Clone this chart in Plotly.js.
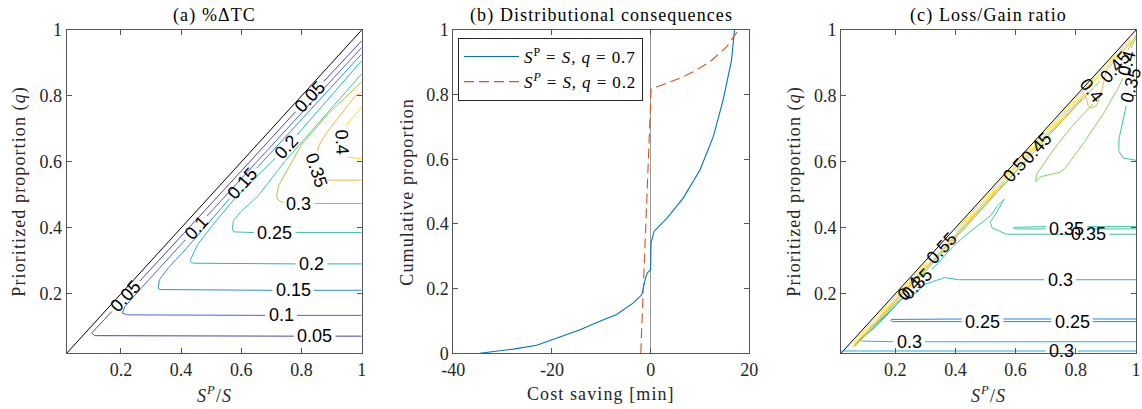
<!DOCTYPE html>
<html><head><meta charset="utf-8">
<script src="https://cdn.plot.ly/plotly-3.0.1.min.js"></script>
<style>
body{margin:0;background:#fff}
.annotation-text[style*="Serif"]{letter-spacing:1.1px}
.legendtext{letter-spacing:0.9px}
</style>
</head><body><div id="chart" style="width:1142px;height:409px"></div>
<script>
// ================= DATA =================
const panelTitles = ['(a) %ΔTC', '(b) Distributional consequences', '(c) Loss/Gain ratio'];
const xTitles = ['<i>S<sup>P</sup></i>/<i>S</i>', 'Cost saving [min]', '<i>S<sup>P</sup></i>/<i>S</i>'];
const yTitles = ['Prioritized proportion (<i>q</i>)', 'Cumulative proportion', 'Prioritized proportion (<i>q</i>)'];
const legendNames = ['<i>S</i><sup>P</sup> = <i>S</i>, <i>q</i> = 0.7', '<i>S<sup>P</sup></i> = <i>S</i>, <i>q</i> = 0.2'];

const unitTickVals = [0.2, 0.4, 0.6, 0.8, 1];
const unitTickText = ['0.2', '0.4', '0.6', '0.8', '1'];
const cumTickVals = [0, 0.2, 0.4, 0.6, 0.8, 1];
const cumTickText = ['0', '0.2', '0.4', '0.6', '0.8', '1'];
const costTickVals = [-40, -20, 0, 20];
const costTickText = ['-40', '-20', '0', '20'];

// boundary S^P = q*S (diagonal)
const diagX = [0.02, 1];
const diagY = [0.02, 1];

// ---- panel (a) %ΔTC contour lines ----
const aX005 = [1, 0.115, 0.103, 0.12, 0.2, 0.5, 0.8, 1];
const aY005 = [0.072, 0.072, 0.082, 0.097, 0.177, 0.473, 0.772, 0.967];
const aX010 = [1, 0.225, 0.205, 0.21, 0.233, 0.45, 0.7, 1];
const aY010 = [0.135, 0.135, 0.142, 0.158, 0.183, 0.4, 0.65, 0.947];
const aX015 = [1, 0.34, 0.324, 0.326, 0.35, 0.394, 0.605, 0.8, 1];
const aY015 = [0.211, 0.211, 0.216, 0.24, 0.272, 0.313, 0.535, 0.73, 0.927];
const aX020 = [1, 0.46, 0.435, 0.43, 0.45, 0.483, 0.572, 0.75, 1];
const aY020 = [0.291, 0.291, 0.294, 0.3, 0.344, 0.384, 0.484, 0.645, 0.907];
const aX025 = [1, 0.6, 0.575, 0.57, 0.572, 0.594, 0.65, 0.728, 0.817, 1];
const aY025 = [0.386, 0.386, 0.388, 0.394, 0.419, 0.446, 0.49, 0.585, 0.675, 0.867];
const aX030 = [1, 0.745, 0.725, 0.717, 0.722, 0.794, 0.872, 1];
const aY030 = [0.474, 0.474, 0.482, 0.494, 0.525, 0.645, 0.731, 0.843];
const aX035 = [1, 0.87, 0.855, 0.848, 0.855, 0.872, 0.917, 0.977, 1];
const aY035 = [0.545, 0.545, 0.55, 0.58, 0.645, 0.675, 0.726, 0.8, 0.81];
const aX040 = [1, 0.95, 0.935, 0.935, 0.955, 1];
const aY040 = [0.766, 0.716, 0.68, 0.64, 0.614, 0.61];
// contour label spots (a)
const aLabLv = [0.05, 0.05, 0.05, 0.1, 0.1, 0.15, 0.15, 0.2, 0.2, 0.25, 0.3, 0.35, 0.4];
const aLabX  = [0.217, 0.828, 0.844, 0.45, 0.733, 0.605, 0.772, 0.75, 0.833, 0.711, 0.789, 0.85, 0.935];
const aLabY  = [0.193, 0.799, 0.072, 0.4, 0.135, 0.535, 0.211, 0.645, 0.291, 0.386, 0.474, 0.575, 0.66];

// ---- panel (b) cumulative distributions of cost saving ----
const bX07 = [-34.6, -27.8, -23.1, -19.0, -14.3, -10.3, -6.9, -3.5, -1.8, -1.1, -0.7, 0.0, 0.07, 0.7, 3.3, 6.6, 10.0, 12.7, 14.7, 16.4, 17.0];
const bY07 = [0, 0.013, 0.025, 0.047, 0.073, 0.099, 0.12, 0.156, 0.181, 0.228, 0.248, 0.259, 0.341, 0.377, 0.418, 0.48, 0.567, 0.67, 0.784, 0.907, 1.0];
const bX02 = [-2.0, -1.6, -1.2, -0.8, -0.4, -0.1, 0.1, 1.8, 6.0, 9.3, 12.3, 15.4, 17.4, 17.8];
const bY02 = [0, 0.15, 0.3, 0.44, 0.6, 0.72, 0.817, 0.827, 0.851, 0.876, 0.905, 0.948, 0.99, 1.0];

// ---- panel (c) Loss/Gain ratio contour lines ----
const cX025 = [1, 0.19, 0.185, 0.19, 1];
const cY025 = [0.124, 0.124, 0.12, 0.116, 0.116];
const cX030a = [0.02, 1];
const cY030a = [0.027, 0.027];
const cX030b = [1, 0.1, 0.087, 0.08, 0.093, 0.126, 0.159, 0.19, 0.215, 0.245, 0.27, 0.293, 0.315, 0.33, 0.348, 0.362, 0.4, 1];
const cY030b = [0.055, 0.055, 0.058, 0.063, 0.07, 0.092, 0.122, 0.15, 0.183, 0.19, 0.203, 0.228, 0.232, 0.24, 0.243, 0.25, 0.243, 0.243];
const cX035a = [0.065, 0.12, 0.2, 0.25, 0.3, 0.332, 0.371, 0.415, 0.471, 0.515, 0.532, 0.548, 0.562, 0.537, 0.515, 0.521, 0.537, 0.565, 0.6, 1];
const cY035a = [0.045, 0.09, 0.165, 0.21, 0.26, 0.283, 0.324, 0.364, 0.404, 0.434, 0.459, 0.474, 0.487, 0.444, 0.419, 0.399, 0.395, 0.381, 0.381, 0.381];
const cX035b = [1, 0.6, 0.593, 0.6, 1];
const cY035b = [0.404, 0.404, 0.4, 0.397, 0.397];
const cX035c = [1, 0.96, 0.943, 0.942, 0.954, 0.965, 0.975, 0.99, 1];
const cY035c = [0.605, 0.61, 0.63, 0.665, 0.711, 0.761, 0.8, 0.85, 0.88];
const cX040a = [0.07, 0.15, 0.25, 0.4, 0.55, 0.7, 0.82];
const cY040a = [0.045, 0.12, 0.218, 0.368, 0.517, 0.668, 0.79];
const cX040b = [0.835, 0.855, 0.875, 0.86, 0.848, 0.804, 0.748, 0.693, 0.67, 0.667, 0.682, 0.737, 0.76, 0.793, 0.848, 0.893, 0.915, 0.937, 0.955, 0.97, 0.985, 1];
const cY040b = [0.83, 0.815, 0.8, 0.78, 0.766, 0.726, 0.665, 0.595, 0.565, 0.54, 0.555, 0.565, 0.575, 0.615, 0.686, 0.746, 0.786, 0.816, 0.85, 0.9, 0.95, 0.975];
const cX045 = [0.065, 0.2, 0.4, 0.67, 0.8, 0.88, 0.932, 0.97, 1];
const cY045 = [0.04, 0.175, 0.373, 0.642, 0.77, 0.845, 0.887, 0.935, 0.985];
const cX050 = [0.06, 0.2, 0.4, 0.598, 0.8, 0.83, 0.837, 0.84, 0.848, 0.868, 0.875, 0.885, 0.9, 0.95, 1];
const cY050 = [0.04, 0.178, 0.378, 0.576, 0.778, 0.805, 0.79, 0.771, 0.763, 0.768, 0.785, 0.81, 0.876, 0.928, 0.98];
const cX055 = [0.055, 0.3, 0.6, 0.9, 0.98, 0.98, 0.9, 0.6, 0.3, 0.06];
const cY055 = [0.047, 0.292, 0.592, 0.892, 0.972, 0.964, 0.884, 0.584, 0.284, 0.043];
// contour label spots (c)
const cLabLv = [0.3, 0.3, 0.3, 0.25, 0.25, 0.35, 0.35, 0.35, 0.4, 0.55, 0.5, 0.45, 0.4, 0.45, 0.4, 0.35];
const cLabX  = [0.754, 0.245, 0.748, 0.49, 0.787, 0.77, 0.843, 0.276, 0.254, 0.354, 0.598, 0.67, 0.852, 0.932, 0.97, 0.984];
const cLabY  = [0.027, 0.055, 0.243, 0.12, 0.12, 0.4, 0.381, 0.228, 0.208, 0.339, 0.576, 0.642, 0.818, 0.887, 0.9, 0.832];

// ================= STYLE / LAYOUT =================
const W = 1142, H = 409;
const panelPxX = [[66.7, 361.7], [453.3, 749.3], [841, 1136]];
const panelPxY = [30, 353.3];
const unitRange = [0.02, 1];
const colorsA = {0.05:'#4a40c2', 0.1:'#4a62e8', 0.15:'#2f88ef', 0.2:'#1fb2e2', 0.25:'#3cc4a2', 0.3:'#a9c043', 0.35:'#f3b243', 0.4:'#f3de23'};
const colorsC = {0.25:'#2a84e6', 0.3:'#22b6d8', 0.35:'#3cc3a0', 0.4:'#8ccf5a', 0.45:'#c7c13c', 0.5:'#f0b43e', 0.55:'#f6dc22'};
const serif = 'Liberation Serif, Times New Roman, serif';
const sans = 'Liberation Sans, Arial, sans-serif';
const axisCol = '#555555';

const contoursA = [
  {lv:0.05, x:aX005, y:aY005}, {lv:0.1, x:aX010, y:aY010}, {lv:0.15, x:aX015, y:aY015},
  {lv:0.2, x:aX020, y:aY020}, {lv:0.25, x:aX025, y:aY025}, {lv:0.3, x:aX030, y:aY030},
  {lv:0.35, x:aX035, y:aY035}, {lv:0.4, x:aX040, y:aY040}
];
const contoursC = [
  {lv:0.3, x:cX030a, y:cY030a}, {lv:0.3, x:cX030b, y:cY030b}, {lv:0.25, x:cX025, y:cY025},
  {lv:0.35, x:cX035a, y:cY035a}, {lv:0.35, x:cX035b, y:cY035b}, {lv:0.35, x:cX035c, y:cY035c},
  {lv:0.4, x:cX040a, y:cY040a}, {lv:0.4, x:cX040b, y:cY040b}, {lv:0.45, x:cX045, y:cY045},
  {lv:0.5, x:cX050, y:cY050}, {lv:0.55, x:cX055, y:cY055}
];

const cv = document.createElement('canvas').getContext('2d');
cv.font = '18px "Liberation Sans"';

function processPanel(contours, labX, labY, labLv, sx, sy, xa, ya, colors) {
  const dense = contours.map(c => {
    const pts = [];
    for (let i = 0; i < c.x.length - 1; i++) {
      const x0 = c.x[i], y0 = c.y[i], x1 = c.x[i+1], y1 = c.y[i+1];
      const L = Math.hypot((x1-x0)*sx, (y1-y0)*sy);
      const n = Math.max(1, Math.ceil(L / 0.8));
      for (let k = 0; k < n; k++) { const t = k / n; pts.push([x0 + (x1-x0)*t, y0 + (y1-y0)*t]); }
    }
    pts.push([c.x[c.x.length-1], c.y[c.y.length-1]]);
    const s = [0];
    for (let i = 1; i < pts.length; i++) s.push(s[i-1] + Math.hypot((pts[i][0]-pts[i-1][0])*sx, (pts[i][1]-pts[i-1][1])*sy));
    return {lv: c.lv, pts, s, hide: new Array(pts.length).fill(false)};
  });
  const anns = [];
  labLv.forEach((lv, j) => {
    let best = null;
    dense.forEach(d => {
      if (Math.abs(d.lv - lv) > 1e-9) return;
      d.pts.forEach((p, i) => {
        const dd = Math.hypot((p[0]-labX[j])*sx, (p[1]-labY[j])*sy);
        if (!best || dd < best.dd) best = {d, i, dd};
      });
    });
    if (!best) return;
    const d = best.d, i = best.i;
    const text = String(lv);
    const w = cv.measureText(text).width;
    const s0 = d.s[i];
    const at = target => {
      let k = 0;
      while (k < d.s.length - 1 && d.s[k] < target) k++;
      return d.pts[k];
    };
    const p1 = at(s0 - w/2), p2 = at(s0 + w/2);
    let ang = Math.atan2(-(p2[1]-p1[1])*sy, (p2[0]-p1[0])*sx) * 180 / Math.PI;
    if (ang > 90) ang -= 180;
    if (ang <= -90) ang += 180;
    const c = d.pts[i];
    const r = ang * Math.PI / 180, cs = Math.cos(r), sn = Math.sin(r);
    const half = w/2 + 3;
    d.pts.forEach((p, k) => {
      const dx = (p[0]-c[0])*sx, dy = -(p[1]-c[1])*sy;
      const u = dx*cs + dy*sn, v = -dx*sn + dy*cs;
      if (Math.abs(u) < half && Math.abs(v) < 7) d.hide[k] = true;
    });
    anns.push({x: c[0], y: c[1], xref: xa, yref: ya, text, textangle: ang, showarrow: false,
      font: {family: sans, size: 18, color: '#000'}, xanchor: 'center', yanchor: 'middle'});
  });
  const traces = dense.map(d => {
    const xs = [], ys = [];
    d.pts.forEach((p, k) => {
      if (d.hide[k]) { if (xs.length && xs[xs.length-1] !== null) { xs.push(null); ys.push(null); } }
      else { xs.push(p[0]); ys.push(p[1]); }
    });
    return {type: 'scatter', mode: 'lines', x: xs, y: ys, xaxis: xa, yaxis: ya,
      line: {color: colors[d.lv], width: 1}, showlegend: false, hoverinfo: 'skip', connectgaps: false};
  });
  return {traces, anns};
}

const plotW = panelPxX[0][1] - panelPxX[0][0];
const plotH = panelPxY[1] - panelPxY[0];
const sxU = plotW / (unitRange[1] - unitRange[0]);
const syU = plotH / (unitRange[1] - unitRange[0]);
const pA = processPanel(contoursA, aLabX, aLabY, aLabLv, sxU, syU, 'x', 'y', colorsA);
const pC = processPanel(contoursC, cLabX, cLabY, cLabLv, (panelPxX[2][1]-panelPxX[2][0])/(unitRange[1]-unitRange[0]), syU, 'x3', 'y3', colorsC);

const traces = [];
traces.push({type:'scatter', mode:'lines', x: diagX, y: diagY, xaxis:'x', yaxis:'y', line:{color:'#000', width:1}, showlegend:false, hoverinfo:'skip'});
traces.push(...pA.traces);
traces.push({type:'scatter', mode:'lines', x: bX07, y: bY07, xaxis:'x2', yaxis:'y2', name: legendNames[0], line:{color:'#0072BD', width:1.1}});
traces.push({type:'scatter', mode:'lines', x: bX02, y: bY02, xaxis:'x2', yaxis:'y2', name: legendNames[1], line:{color:'#D95319', width:1.1, dash:'10px,5px'}});
traces.push({type:'scatter', mode:'lines', x: diagX, y: diagY, xaxis:'x3', yaxis:'y3', line:{color:'#000', width:1}, showlegend:false, hoverinfo:'skip'});
traces.push(...pC.traces);

const ydom = [1 - panelPxY[1]/H, 1 - panelPxY[0]/H];
function axis(i, extra) {
  return Object.assign({
    domain: [panelPxX[i][0]/W, panelPxX[i][1]/W],
    showline: true, linecolor: axisCol, linewidth: 1, mirror: 'ticks',
    ticks: 'inside', ticklen: 5, tickwidth: 1, tickcolor: axisCol,
    showgrid: false, zeroline: false, fixedrange: true,
    tickfont: {family: serif, size: 18, color: '#262626'}
  }, extra);
}
function yaxis(i, extra) {
  const a = axis(i, extra);
  a.domain = ydom;
  return a;
}

const annotations = [];
panelTitles.forEach((t, i) => {
  const cx = (panelPxX[i][0] + panelPxX[i][1]) / 2 / W;
  annotations.push({text: t, x: cx, y: 1 - 15/H, xref:'paper', yref:'paper', showarrow:false,
    xanchor:'center', yanchor:'middle', font:{family: serif, size: 18, color:'#000'}});
  annotations.push({text: xTitles[i], x: cx, y: 1 - 394/H, xref:'paper', yref:'paper', showarrow:false,
    xanchor:'center', yanchor:'middle', font:{family: serif, size: 18, color:'#262626'}});
});
const yTitleX = [20, 407, 795];
yTitles.forEach((t, i) => {
  annotations.push({text: t, x: yTitleX[i]/W, y: 1 - (panelPxY[0]+panelPxY[1])/2/H, xref:'paper', yref:'paper',
    showarrow:false, textangle: -90, xanchor:'center', yanchor:'middle', font:{family: serif, size: 18, color:'#262626'}});
});
annotations.push(...pA.anns, ...pC.anns);

const layout = {
  width: W, height: H, margin: {l:0, r:0, t:0, b:0},
  paper_bgcolor: '#fff', plot_bgcolor: '#fff',
  showlegend: true,
  legend: {x: 458/W, y: 1 - 38/H, xanchor:'left', yanchor:'top', bgcolor:'#fff',
    bordercolor:'#262626', borderwidth:1, font:{family: serif, size: 17, color:'#000'},
    itemwidth: 55, tracegroupgap: 0},
  xaxis: axis(0, {range: unitRange, tickvals: unitTickVals, ticktext: unitTickText, anchor:'y'}),
  yaxis: yaxis(0, {range: unitRange, tickvals: unitTickVals, ticktext: unitTickText, anchor:'x'}),
  xaxis2: axis(1, {range: [-40, 20], tickvals: costTickVals, ticktext: costTickText, anchor:'y2',
    zeroline: true, zerolinecolor:'#9a9a9a', zerolinewidth: 1}),
  yaxis2: yaxis(1, {range: [0, 1], tickvals: cumTickVals, ticktext: cumTickText, anchor:'x2'}),
  xaxis3: axis(2, {range: unitRange, tickvals: unitTickVals, ticktext: unitTickText, anchor:'y3'}),
  yaxis3: yaxis(2, {range: unitRange, tickvals: unitTickVals, ticktext: unitTickText, anchor:'x3'}),
  annotations
};
Plotly.newPlot('chart', traces, layout, {staticPlot: true, displayModeBar: false});
</script>
</body></html>
